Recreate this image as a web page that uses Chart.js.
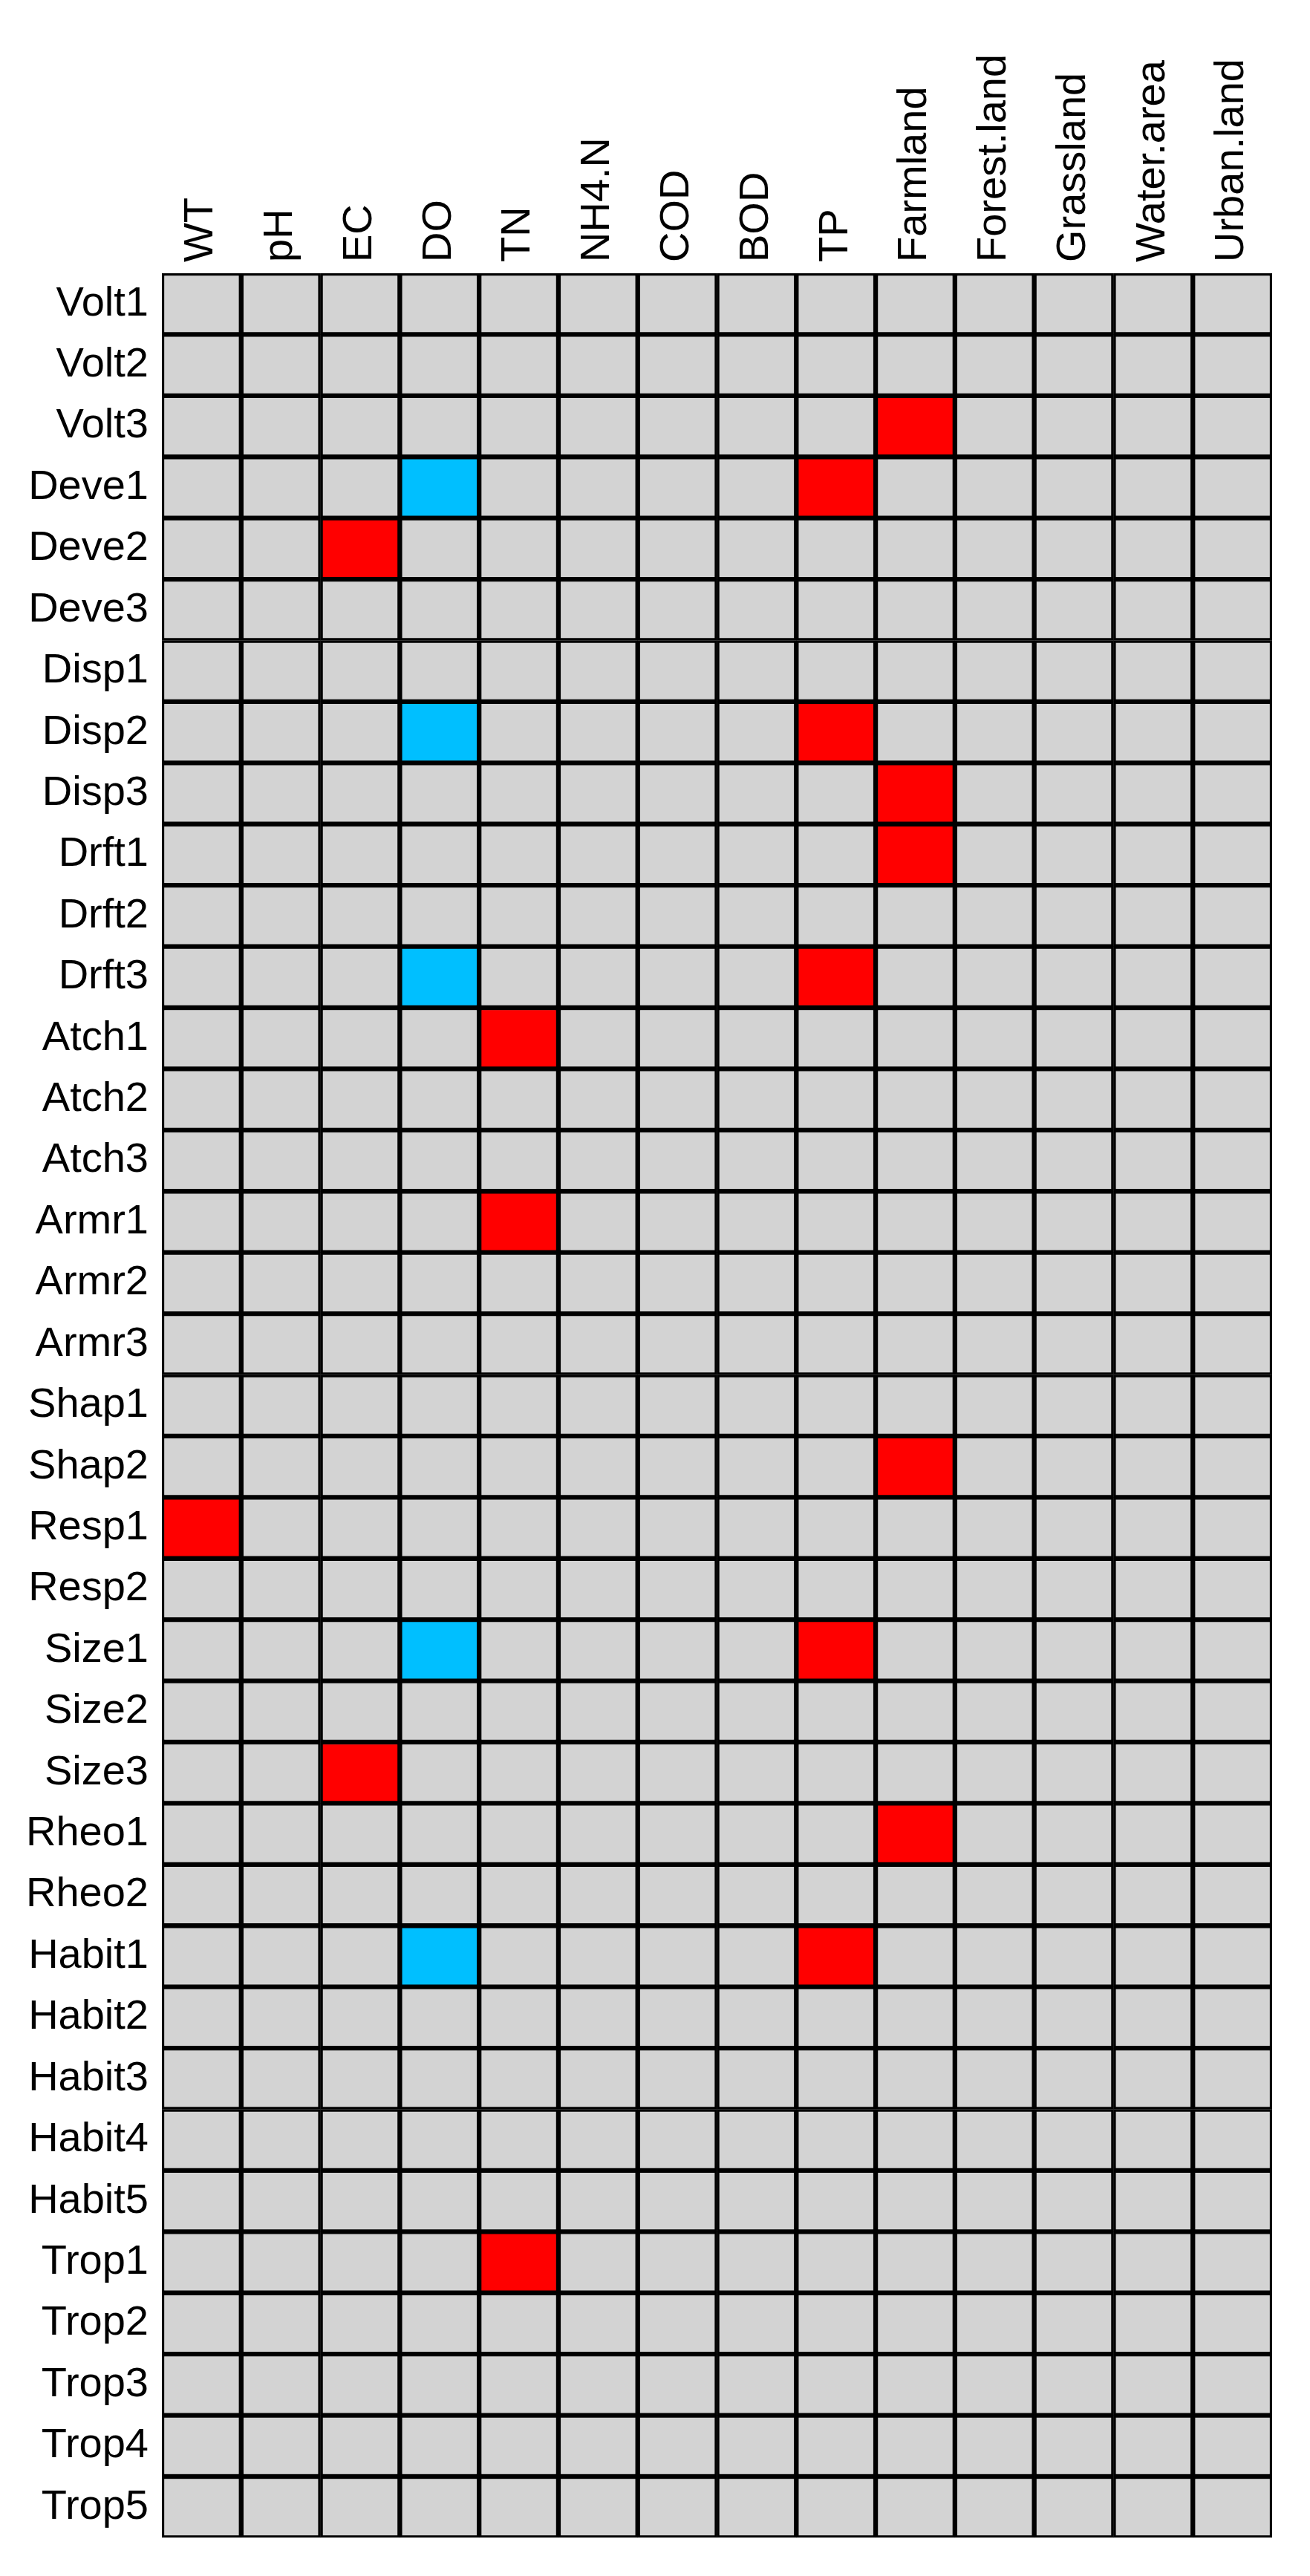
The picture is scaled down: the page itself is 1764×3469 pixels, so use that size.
<!DOCTYPE html>
<html>
<head>
<meta charset="utf-8">
<script src="https://cdn.jsdelivr.net/npm/chart.js@4.4.1/dist/chart.umd.min.js"></script>
<style>
  html, body { margin: 0; padding: 0; background: #ffffff; }
  #wrap { width: 1764px; height: 3469px; }
</style>
</head>
<body>
<div id="wrap"><canvas id="c" width="1764" height="3469"></canvas></div>
<script>
// Column (environmental variable) labels
const cols = ["WT", "pH", "EC", "DO", "TN", "NH4.N", "COD", "BOD", "TP",
              "Farmland", "Forest.land", "Grassland", "Water.area", "Urban.land"];

// Row (trait) labels
const rows = ["Volt1", "Volt2", "Volt3", "Deve1", "Deve2", "Deve3",
              "Disp1", "Disp2", "Disp3", "Drft1", "Drft2", "Drft3",
              "Atch1", "Atch2", "Atch3", "Armr1", "Armr2", "Armr3",
              "Shap1", "Shap2", "Resp1", "Resp2", "Size1", "Size2", "Size3",
              "Rheo1", "Rheo2", "Habit1", "Habit2", "Habit3", "Habit4", "Habit5",
              "Trop1", "Trop2", "Trop3", "Trop4", "Trop5"];

// Association sign per row (1 = positive, -1 = negative, 0 = none), columns in order of cols
const cells = [
  [0,0,0,0,0,0,0,0,0,0,0,0,0,0],   // Volt1
  [0,0,0,0,0,0,0,0,0,0,0,0,0,0],   // Volt2
  [0,0,0,0,0,0,0,0,0,1,0,0,0,0],   // Volt3
  [0,0,0,-1,0,0,0,0,1,0,0,0,0,0],  // Deve1
  [0,0,1,0,0,0,0,0,0,0,0,0,0,0],   // Deve2
  [0,0,0,0,0,0,0,0,0,0,0,0,0,0],   // Deve3
  [0,0,0,0,0,0,0,0,0,0,0,0,0,0],   // Disp1
  [0,0,0,-1,0,0,0,0,1,0,0,0,0,0],  // Disp2
  [0,0,0,0,0,0,0,0,0,1,0,0,0,0],   // Disp3
  [0,0,0,0,0,0,0,0,0,1,0,0,0,0],   // Drft1
  [0,0,0,0,0,0,0,0,0,0,0,0,0,0],   // Drft2
  [0,0,0,-1,0,0,0,0,1,0,0,0,0,0],  // Drft3
  [0,0,0,0,1,0,0,0,0,0,0,0,0,0],   // Atch1
  [0,0,0,0,0,0,0,0,0,0,0,0,0,0],   // Atch2
  [0,0,0,0,0,0,0,0,0,0,0,0,0,0],   // Atch3
  [0,0,0,0,1,0,0,0,0,0,0,0,0,0],   // Armr1
  [0,0,0,0,0,0,0,0,0,0,0,0,0,0],   // Armr2
  [0,0,0,0,0,0,0,0,0,0,0,0,0,0],   // Armr3
  [0,0,0,0,0,0,0,0,0,0,0,0,0,0],   // Shap1
  [0,0,0,0,0,0,0,0,0,1,0,0,0,0],   // Shap2
  [1,0,0,0,0,0,0,0,0,0,0,0,0,0],   // Resp1
  [0,0,0,0,0,0,0,0,0,0,0,0,0,0],   // Resp2
  [0,0,0,-1,0,0,0,0,1,0,0,0,0,0],  // Size1
  [0,0,0,0,0,0,0,0,0,0,0,0,0,0],   // Size2
  [0,0,1,0,0,0,0,0,0,0,0,0,0,0],   // Size3
  [0,0,0,0,0,0,0,0,0,1,0,0,0,0],   // Rheo1
  [0,0,0,0,0,0,0,0,0,0,0,0,0,0],   // Rheo2
  [0,0,0,-1,0,0,0,0,1,0,0,0,0,0],  // Habit1
  [0,0,0,0,0,0,0,0,0,0,0,0,0,0],   // Habit2
  [0,0,0,0,0,0,0,0,0,0,0,0,0,0],   // Habit3
  [0,0,0,0,0,0,0,0,0,0,0,0,0,0],   // Habit4
  [0,0,0,0,0,0,0,0,0,0,0,0,0,0],   // Habit5
  [0,0,0,0,1,0,0,0,0,0,0,0,0,0],   // Trop1
  [0,0,0,0,0,0,0,0,0,0,0,0,0,0],   // Trop2
  [0,0,0,0,0,0,0,0,0,0,0,0,0,0],   // Trop3
  [0,0,0,0,0,0,0,0,0,0,0,0,0,0],   // Trop4
  [0,0,0,0,0,0,0,0,0,0,0,0,0,0]    // Trop5
];

const signColors = { "1": "#FF0000", "-1": "#00BFFF", "0": "#D3D3D3" };
const FAMILY = "'Liberation Sans', Arial, Helvetica, sans-serif";

// one floating-bar dataset per column; each bar spans that column's slot on the x scale
const datasets = cols.map((name, j) => ({
  label: name,
  data: rows.map(() => [j, j + 1]),
  backgroundColor: rows.map((r, i) => signColors[String(cells[i][j])]),
  borderColor: "#000000",
  borderWidth: 3.5,
  borderSkipped: false,
  barPercentage: 1,
  categoryPercentage: 1,
  grouped: false
}));

new Chart(document.getElementById("c"), {
  type: "bar",
  data: { labels: rows, datasets },
  options: {
    indexAxis: "y",
    responsive: false,
    animation: false,
    devicePixelRatio: 1,
    layout: { padding: { left: 0, top: 0, right: 51, bottom: 29 } },
    plugins: { legend: { display: false }, tooltip: { enabled: false } },
    scales: {
      x: { type: "linear", min: 0, max: cols.length, display: false },
      xTop: {
        type: "category",
        labels: cols,
        position: "top",
        offset: true,
        grid: { display: false, drawTicks: false, tickLength: 0 },
        border: { display: false },
        ticks: {
          autoSkip: false, minRotation: 90, maxRotation: 90,
          padding: 15, color: "#000000",
          font: { family: FAMILY, size: 56, lineHeight: 0.01 }
        },
        afterFit: (s) => { s.height = 368; }
      },
      y: {
        type: "category",
        offset: true,
        grid: { display: false, drawTicks: false, tickLength: 0 },
        border: { display: false },
        ticks: { autoSkip: false, padding: 18, color: "#000000",
                 font: { family: FAMILY, size: 56 } },
        afterFit: (s) => { s.width = 218; }
      }
    }
  }
});
</script>
</body>
</html>
